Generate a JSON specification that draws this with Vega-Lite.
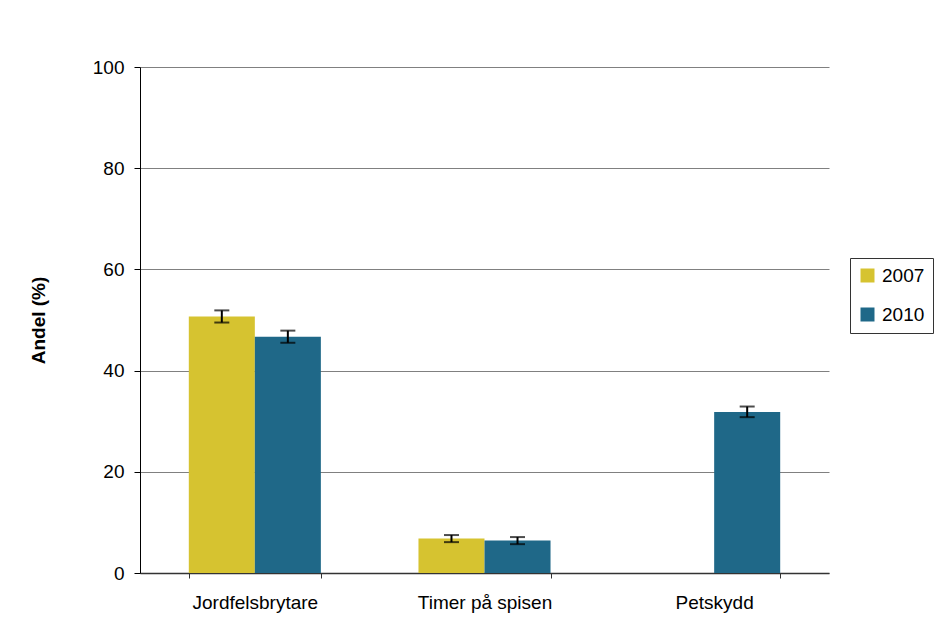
{
  "$schema": "https://vega.github.io/schema/vega-lite/v6.json",
  "width": 689,
  "height": 506,
  "autosize": "none",
  "padding": {"left": 140, "top": 67, "right": 122, "bottom": 52},
  "background": "white",
  "config": {
    "font": "Liberation Sans",
    "view": {"stroke": null}
  },
  "data": {
    "values": [
      {"cat": "Jordfelsbrytare", "year": "2007", "value": 50.7, "lo": 49.5, "hi": 51.9},
      {"cat": "Jordfelsbrytare", "year": "2010", "value": 46.7, "lo": 45.5, "hi": 47.9},
      {"cat": "Timer på spisen", "year": "2007", "value": 6.8, "lo": 6.1, "hi": 7.5},
      {"cat": "Timer på spisen", "year": "2010", "value": 6.4, "lo": 5.7, "hi": 7.1},
      {"cat": "Petskydd", "year": "2010", "value": 31.8, "lo": 30.8, "hi": 32.9}
    ]
  },
  "encoding": {
    "x": {
      "field": "cat",
      "type": "nominal",
      "sort": ["Jordfelsbrytare", "Timer på spisen", "Petskydd"],
      "scale": {"paddingInner": 0.425, "paddingOuter": 0.2125},
      "axis": {
        "title": null,
        "labelAngle": 0,
        "labelFontSize": 19,
        "labelColor": "black",
        "labelPadding": 15,
        "tickBand": "extent",
        "tickSize": 5,
        "tickColor": "#333333",
        "domainColor": "#333333",
        "domainWidth": 1.5
      }
    },
    "xOffset": {
      "field": "year",
      "type": "nominal",
      "scale": {"domain": ["2007", "2010"], "paddingInner": 0, "paddingOuter": 0}
    }
  },
  "layer": [
    {
      "mark": {"type": "bar"},
      "encoding": {
        "y": {
          "field": "value",
          "type": "quantitative",
          "scale": {"domain": [0, 100]},
          "axis": {
            "title": "Andel (%)",
            "titleFontSize": 19,
            "titleFontWeight": "bold",
            "titleColor": "black",
            "titlePadding": 44,
            "values": [0, 20, 40, 60, 80, 100],
            "labelFontSize": 19,
            "labelColor": "black",
            "labelPadding": 10,
            "tickSize": 6,
            "tickColor": "black",
            "domainColor": "black",
            "gridColor": "#808080",
            "gridWidth": 1
          }
        },
        "color": {
          "field": "year",
          "type": "nominal",
          "scale": {"domain": ["2007", "2010"], "range": ["#D6C330", "#1F6888"]},
          "legend": {
            "title": null,
            "orient": "none",
            "legendX": 710,
            "legendY": 191,
            "symbolType": "square",
            "symbolSize": 196,
            "symbolStrokeWidth": 0,
            "labelFontSize": 19,
            "labelColor": "black",
            "labelOffset": 5,
            "rowPadding": 19,
            "padding": 8,
            "strokeColor": "#333333",
            "fillColor": "white"
          }
        }
      }
    },
    {
      "mark": {"type": "rule", "color": "black", "strokeWidth": 2},
      "encoding": {
        "y": {"field": "lo", "type": "quantitative"},
        "y2": {"field": "hi"}
      }
    },
    {
      "mark": {"type": "tick", "color": "black", "size": 15, "thickness": 2},
      "encoding": {
        "y": {"field": "lo", "type": "quantitative"}
      }
    },
    {
      "mark": {"type": "tick", "color": "black", "size": 15, "thickness": 2},
      "encoding": {
        "y": {"field": "hi", "type": "quantitative"}
      }
    }
  ]
}
